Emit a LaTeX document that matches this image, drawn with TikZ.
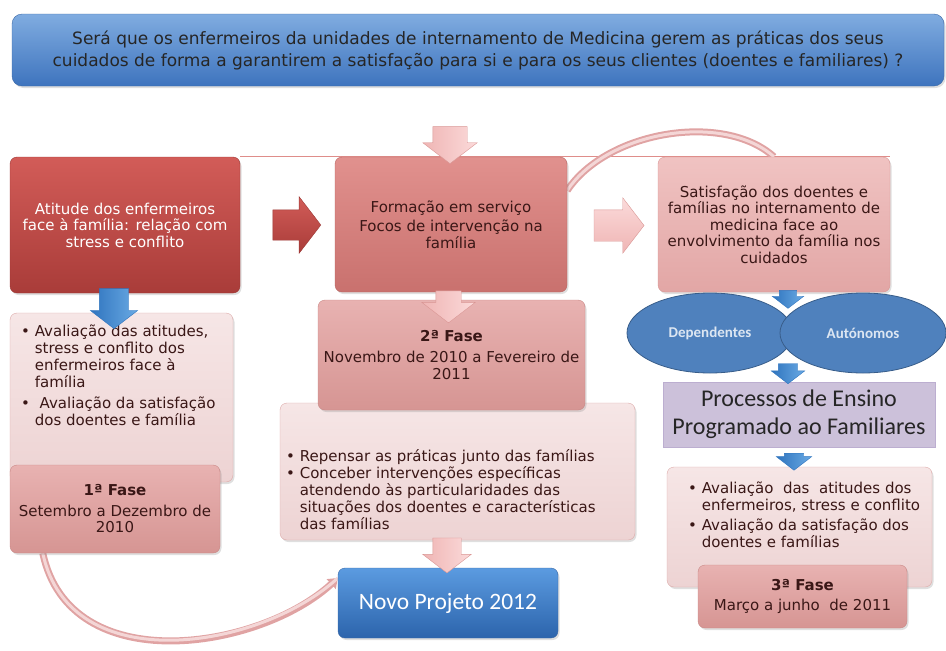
\documentclass[tikz,border=0pt]{standalone}
\usepackage{fontspec}
\setmainfont{DejaVu Sans}
\newfontfamily\calibri{Carlito}
\usepackage{tikz}
\usetikzlibrary{positioning, shapes.geometric, shapes.arrows, shadows, backgrounds, arrows.meta}

\definecolor{titletop}{HTML}{80ACE0}
\definecolor{titlebot}{HTML}{3E74BE}
\definecolor{titleline}{HTML}{3A68A6}
\definecolor{redtop}{HTML}{D25C58}
\definecolor{redbot}{HTML}{A93C39}
\definecolor{redline}{HTML}{9C3835}
\definecolor{midtop}{HTML}{E1918E}
\definecolor{midbot}{HTML}{C9716E}
\definecolor{midline}{HTML}{B86663}
\definecolor{sattop}{HTML}{F0C3C2}
\definecolor{satbot}{HTML}{E2A6A5}
\definecolor{paletop}{HTML}{F6E6E6}
\definecolor{palebot}{HTML}{EDD3D3}
\definecolor{paleline}{HTML}{DDAAA9}
\definecolor{fasetop}{HTML}{E8B2B1}
\definecolor{fasebot}{HTML}{D69593}
\definecolor{faseline}{HTML}{C98886}
\definecolor{ellfill}{HTML}{4F81BD}
\definecolor{ellline}{HTML}{385D8A}
\definecolor{elltext}{HTML}{DCE6F2}
\definecolor{lilac}{HTML}{CCC1DA}
\definecolor{lilacline}{HTML}{BCAED0}
\definecolor{novotop}{HTML}{5B9BE0}
\definecolor{novobot}{HTML}{2C64AC}
\definecolor{pinkarrowtop}{HTML}{FBDADA}
\definecolor{pinkarrowbot}{HTML}{EFB5B4}
\definecolor{pinkarrowline}{HTML}{D99694}
\definecolor{bluearrowtop}{HTML}{6AAAE4}
\definecolor{bluearrowbot}{HTML}{2F74BE}
\definecolor{ribbonedge}{HTML}{E0A3A3}
\definecolor{ribbonmid}{HTML}{F4D6D6}
\definecolor{darktext}{HTML}{3A1716}

\newcommand{\shaft}[1]{\rule{0pt}{#1pt}} % sets the shaft width of a block arrow

\tikzset{
x=1pt, y=-1pt, % one unit per pixel, y runs down
every node/.style={font=\fontsize{15}{16.5}\selectfont, align=center},
boxsize/.style 2 args={minimum width=#1pt, minimum height=#2pt, inner sep=0pt},
card/.style={rectangle, rounded corners=7pt, drop shadow={opacity=.25, shadow xshift=1.5pt, shadow yshift=-2pt}},
titlebox/.style={card, rounded corners=10pt, top color=titletop, bottom color=titlebot, draw=titleline, text=black!85, font=\fontsize{17}{22}\selectfont},
redcard/.style={card, top color=redtop, bottom color=redbot, draw=redline, text=white},
midcard/.style={card, top color=midtop, bottom color=midbot, draw=midline, text=darktext},
satcard/.style={card, top color=sattop, bottom color=satbot, draw=pinkarrowline, text=darktext},
palecard/.style={card, top color=paletop, bottom color=palebot, draw=paleline},
fasecard/.style={card, top color=fasetop, bottom color=fasebot, draw=faseline, text=darktext},
novocard/.style={card, top color=novotop, bottom color=novobot, draw=titleline, text=white, font=\calibri\fontsize{23.5}{26}\selectfont},
lilacbox/.style={rectangle, fill=lilac, draw=lilacline, text=black!85, font=\calibri\fontsize{24}{28}\selectfont},
group/.style={ellipse, fill=ellfill, draw=ellline, thick, text=elltext, font=\calibri\bfseries\fontsize{15}{17}\selectfont},
bullets/.style={anchor=north west, align=left, inner sep=0pt, text=darktext},
arrowdims/.style 2 args={minimum height=#1pt, single arrow head extend=#2pt},
blockarrow/.style={single arrow, single arrow head indent=0pt, single arrow tip angle=105, inner sep=0pt},
redarrow/.style={blockarrow, top color=redtop, bottom color=redbot, draw=redline},
pinkarrow/.style={blockarrow, top color=pinkarrowtop, bottom color=pinkarrowbot, draw=pinkarrowline},
pinkdown/.style={blockarrow, rotate=270, right color=pinkarrowtop, left color=pinkarrowbot, draw=pinkarrowline},
bluedown/.style={blockarrow, rotate=270, right color=bluearrowtop, left color=bluearrowbot, draw=bluearrowbot},
ribbon/.style={draw=ribbonedge, line width=7pt, postaction={draw=ribbonmid, line width=3pt, -}},
thinline/.style={draw=redtop!70, line width=0.7pt},
}

\begin{document}
\begin{tikzpicture}
\useasboundingbox (0,0) rectangle (946,651);

\node[titlebox, boxsize={932}{72}] (question) at (478,50)
  {Será que os enfermeiros da unidades de internamento de Medicina gerem as práticas dos seus\\
   cuidados de forma a garantirem a satisfação para si e para os seus clientes (doentes e familiares) ?};

% top row
\node[redcard, boxsize={230}{136}] (atitude) at (125,225) {Atitude dos enfermeiros\\face à família: relação com\\stress e conflito};
\node[midcard, boxsize={232}{135}] (formacao) at (451,224.5) {Formação em serviço\\[3pt]Focos de intervenção na\\família};
\node[satcard, boxsize={232}{135}] (satisf) at (774,224.5) {Satisfação dos doentes e\\famílias no internamento de\\medicina face ao\\envolvimento da família nos\\cuidados};

% left column
\node[palecard, boxsize={223}{169}] (aval1) at (121.5,397.5) {};
\node[bullets, below right=12pt and 11pt of aval1.north west] (aval1txt)
  {\begin{tabular}{@{}l@{\hspace{5pt}}l@{}}
   \textbullet & Avaliação das atitudes,\\ & stress e conflito dos\\ & enfermeiros face à\\ & família\\[5pt]
   \textbullet & \ Avaliação da satisfação\\ & dos doentes e família
   \end{tabular}};
\node[fasecard, boxsize={210}{88}] (fase1) at (115,509) {\textbf{1ª Fase}\\[4pt]Setembro a Dezembro de\\2010};

% middle column
\node[palecard, boxsize={355}{137}] (aval2) at (457.5,471.5) {};
\node[bullets, below right=46pt and 6pt of aval2.north west] (aval2txt)
  {\begin{tabular}{@{}l@{\hspace{5pt}}l@{}}
   \textbullet & Repensar as práticas junto das famílias\\[1pt]
   \textbullet & Conceber intervenções específicas\\ & atendendo às particularidades das\\ & situações dos doentes e características\\ & das famílias
   \end{tabular}};
\node[fasecard, boxsize={267}{110}] (fase2) at (451.5,355) {\textbf{2ª Fase}\\[5pt]Novembro de 2010 a Fevereiro de\\2011};
\node[novocard, boxsize={220}{70}] (novo) at (448,603) {Novo Projeto 2012};

% right column
\node[group, minimum width=166pt, minimum height=80pt] (dep) at (710,333) {Dependentes};
\node[group, minimum width=166pt, minimum height=80pt] (aut) at (863,333) {Autónomos};
\node[lilacbox, boxsize={272}{65}] (ensino) at (799,414.5) {Processos de Ensino\\Programado ao Familiares};
\node[palecard, boxsize={265}{120}] (aval3) at (799.5,527) {};
\node[bullets, below right=15pt and 21pt of aval3.north west] (aval3txt)
  {\begin{tabular}{@{}l@{\hspace{5pt}}l@{}}
   \textbullet & Avaliação\ \ das\ \ atitudes dos\\ & enfermeiros, stress e conflito\\[4pt]
   \textbullet & Avaliação da satisfação dos\\ & doentes e famílias
   \end{tabular}};
\node[fasecard, boxsize={209}{63}] (fase3) at (802.5,596.5) {\textbf{3ª Fase}\\[3pt]Março a junho\ \ de 2011};

% block arrows
\node[redarrow, arrowdims={48}{13}] (toformacao) at (291,225) {\shaft{30}};
\node[pinkarrow, arrowdims={50}{12}] (tosatisf) at (613,225.5) {\shaft{31}};
\node[pinkdown, arrowdims={37}{10}] (intoformacao) at (450,138.5) {\shaft{34}};
\node[pinkdown, arrowdims={32}{14}] (tofase2) at (448.5,302) {\shaft{25}};
\node[pinkdown, arrowdims={35}{10}] (tonovo) at (447,550) {\shaft{28}};
\node[bluedown, arrowdims={40}{9}] (toaval1) at (114,303) {\shaft{29}};
\node[bluedown, arrowdims={18}{7}] (togroups) at (788,296) {\shaft{17}};
\node[bluedown, arrowdims={20}{7}] (toensino) at (788,370) {\shaft{19}};
\node[bluedown, arrowdims={17}{8}] (toaval3) at (794,458) {\shaft{19}};

\begin{scope}[on background layer]
\draw[thinline] (atitude.north east) -- (satisf.north east);
\draw[ribbon] ([yshift=34pt]formacao.east) .. controls +(40,-60) and +(-50,-45) .. (satisf.north);
\draw[ribbon, -{Triangle[width=13pt,length=9pt]}] ([xshift=33pt]fase1.south west) .. controls +(27,127) and +(-78,72) .. ([yshift=25pt]novo.west);
\end{scope}
\end{tikzpicture}
\end{document}
